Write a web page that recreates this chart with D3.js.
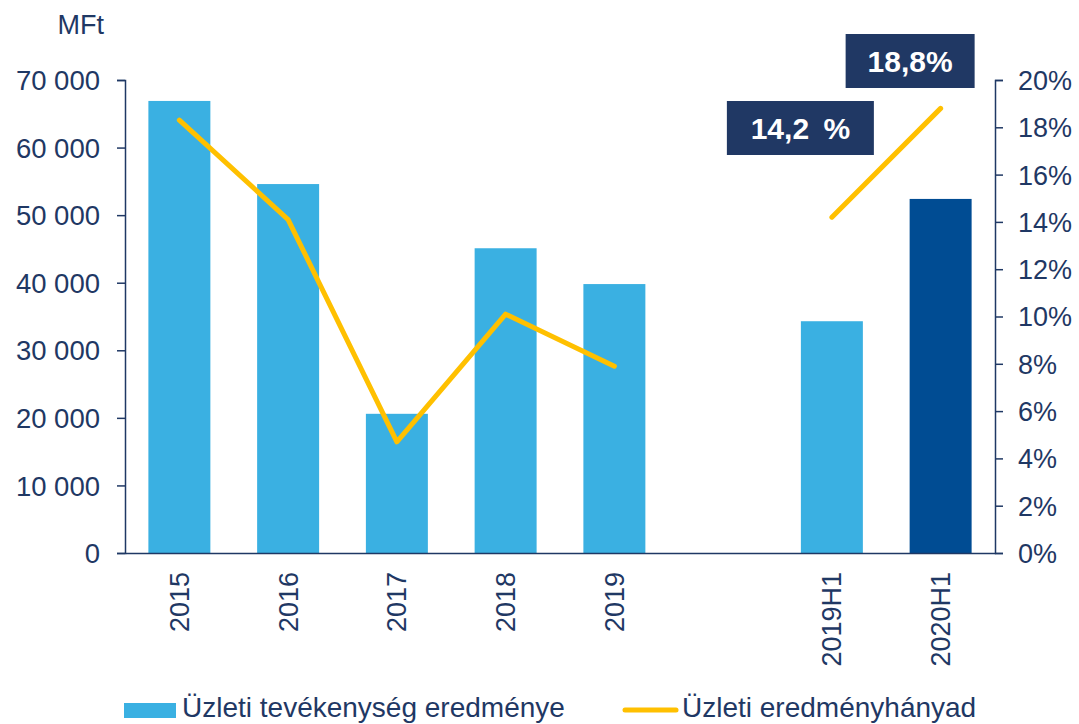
<!DOCTYPE html>
<html><head><meta charset="utf-8">
<script src="https://cdn.jsdelivr.net/npm/d3@7"></script>
<style>body{margin:0;background:#fff}svg text{font-family:"Liberation Sans",Arial,sans-serif}</style>
</head><body><svg id="c" width="1079" height="724"></svg>
<script>
const categories = ["2015","2016","2017","2018","2019","gap","2019H1","2020H1"];
const barValues = [66900, 54600, 20600, 45100, 39800, null, 34300, 52400];
const marginValues = [18.3, 14.1, 4.7, 10.1, 7.9, null, 14.2, 18.8];
const leftTicks = [0,10000,20000,30000,40000,50000,60000,70000];
const rightTicks = [0,2,4,6,8,10,12,14,16,18,20];
const boxLabels = [{cat:"2019H1", text:"14,2 %"},{cat:"2020H1", text:"18,8%"}];
const legendItems = ["Üzleti tevékenység eredménye","Üzleti eredményhányad"];

const navy = "#1f3864", light = "#3AB0E2", dark = "#004C93", gold = "#FFC000";
const svg = d3.select("#c");
const x = d3.scaleBand().domain(categories).range([125, 995]).paddingInner(0.43).paddingOuter(0.215);
const yL = d3.scaleLinear().domain([0,70000]).range([553, 80]);
const yR = d3.scaleLinear().domain([0,20]).range([553, 80]);
const fmt = v => d3.format(",")(v).replace(/,/g, " ");

// bars
svg.append("g").selectAll("rect").data(categories.map((c,i)=>({c,v:barValues[i]})).filter(d=>d.v!=null))
  .join("rect").attr("x",d=>x(d.c)).attr("width",x.bandwidth())
  .attr("y",d=>yL(d.v)).attr("height",d=>yL(0)-yL(d.v))
  .attr("fill",d=>d.c==="2020H1"?dark:light);

// left axis
const gl = svg.append("g").attr("transform","translate(125,0)")
  .call(d3.axisLeft(yL).tickValues(leftTicks).tickFormat(fmt).tickSize(8).tickSizeOuter(8));
gl.selectAll("path,line").attr("stroke",navy).attr("stroke-width",1.5);
gl.selectAll("text").attr("fill",navy).attr("font-size",27.5).attr("x",-25).attr("dy","0.35em").style("font-family","Liberation Sans, Arial, sans-serif");

// right axis
const gr = svg.append("g").attr("transform","translate(995,0)")
  .call(d3.axisRight(yR).tickValues(rightTicks).tickFormat(d=>d+"%").tickSize(8).tickSizeOuter(8));
gr.selectAll("path,line").attr("stroke",navy).attr("stroke-width",1.5);
gr.selectAll("text").attr("fill",navy).attr("font-size",27).attr("x",23).attr("dy","0.35em").style("font-family","Liberation Sans, Arial, sans-serif");

// bottom axis
const gb = svg.append("g").attr("transform","translate(0,553)")
  .call(d3.axisBottom(x).tickSize(0).tickSizeOuter(0).tickFormat(d=>d==="gap"?"":d));
gb.select("path").attr("stroke",navy).attr("stroke-width",1.5);
gb.selectAll("text").attr("fill",navy).attr("font-size",27)
  .attr("transform","rotate(-90)").attr("x",-19).attr("y",0).attr("dy","0.35em")
  .attr("text-anchor","end").style("font-family","Liberation Sans, Arial, sans-serif");

// line
const line = d3.line().defined(d=>d.v!=null).x(d=>x(d.c)+x.bandwidth()/2).y(d=>yR(d.v));
svg.append("path").datum(categories.map((c,i)=>({c,v:marginValues[i]})))
  .attr("d",line).attr("fill","none").attr("stroke",gold).attr("stroke-width",5)
  .attr("stroke-linecap","round").attr("stroke-linejoin","round");

// MFt
svg.append("text").attr("x",104).attr("y",34).attr("text-anchor","end").attr("fill",navy).attr("font-size",27).text("MFt");

// boxes
const boxPos = {"2019H1":{dx:-105,y:101,w:147},"2020H1":{dx:-95,y:34,w:129}};
boxLabels.forEach(b=>{
  const cx = x(b.cat)+x.bandwidth()/2, p = boxPos[b.cat];
  svg.append("rect").attr("x",cx+p.dx).attr("y",p.y).attr("width",p.w).attr("height",54).attr("fill","#203864");
  svg.append("text").attr("x",cx+p.dx+p.w/2).attr("y",p.y+27).attr("dy","0.35em").attr("text-anchor","middle")
    .attr("fill","#fff").attr("font-weight","bold").attr("font-size",30).attr("word-spacing",6).text(b.text);
});

// legend
const lg = svg.append("g");
lg.append("rect").attr("x",124).attr("y",703).attr("width",52).attr("height",15).attr("fill",light);
lg.append("text").attr("x",182).attr("y",717).attr("fill",navy).attr("font-size",28).text(legendItems[0]);
lg.append("line").attr("x1",625).attr("x2",676).attr("y1",710).attr("y2",710).attr("stroke",gold).attr("stroke-width",5).attr("stroke-linecap","round");
lg.append("text").attr("x",682).attr("y",717).attr("fill",navy).attr("font-size",28).text(legendItems[1]);
</script></body></html>
